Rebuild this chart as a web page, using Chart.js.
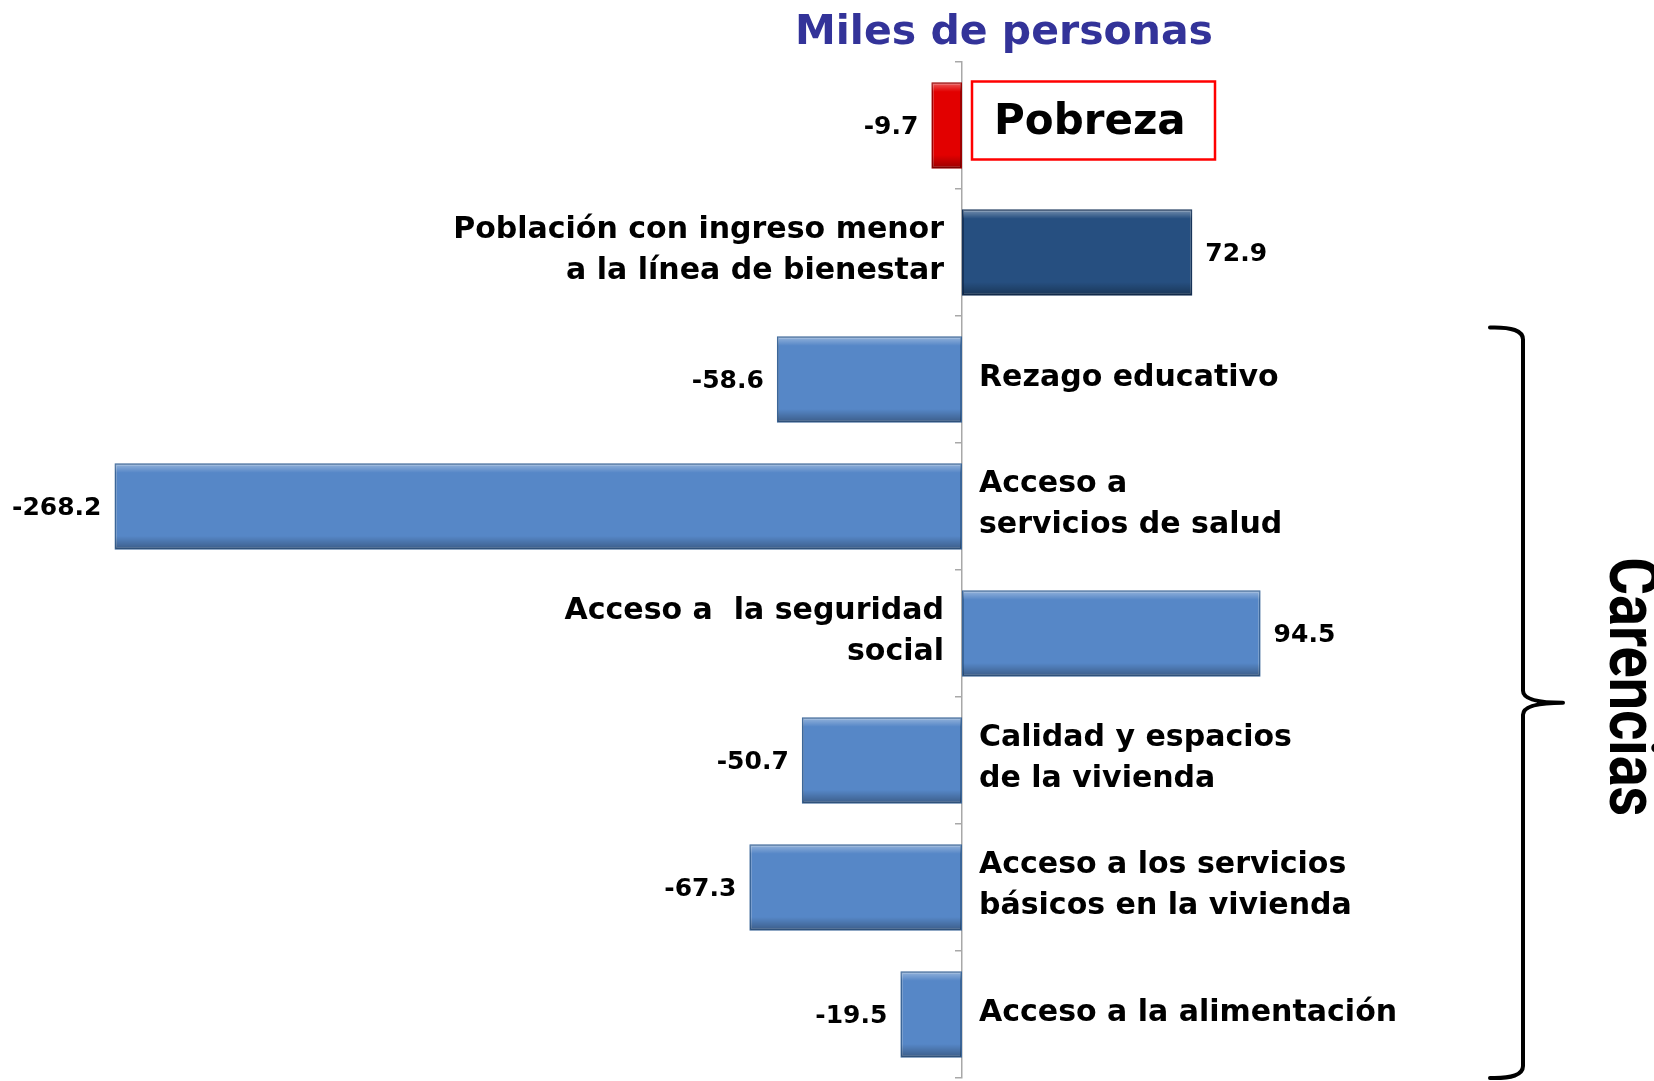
<!DOCTYPE html>
<html>
<head>
<meta charset="utf-8">
<script src="https://cdn.jsdelivr.net/npm/chart.js@4.4.1/dist/chart.umd.min.js"></script>
<style>
  html, body { margin: 0; padding: 0; background: #fff; }
  #wrap { width: 1654px; height: 1081px; }
</style>
</head>
<body>
<div id="wrap"><canvas id="cambio" width="1654" height="1081"></canvas></div>
<script>
// categorias (una por barra, de arriba hacia abajo), con sus renglones
const categorias = [
  ['Pobreza'],
  ['Población con ingreso menor', 'a la línea de bienestar'],
  ['Rezago educativo'],
  ['Acceso a', 'servicios de salud'],
  ['Acceso a  la seguridad', 'social'],
  ['Calidad y espacios', 'de la vivienda'],
  ['Acceso a los servicios', 'básicos en la vivienda'],
  ['Acceso a la alimentación'],
];
const valores = [-9.7, 72.9, -58.6, -268.2, 94.5, -50.7, -67.3, -19.5];
const titulo = 'Miles de personas';
const grupo = 'Carencias';

const colorBarra = ['#e20000', '#264f80', '#5687c7', '#5687c7', '#5687c7', '#5687c7', '#5687c7', '#5687c7'];
const colorBorde = ['#9c0000', '#17345a', '#3b6699', '#3b6699', '#3b6699', '#3b6699', '#3b6699', '#3b6699'];

const FUENTE = '"DejaVu Sans"';

// brillo arriba y sombra abajo, para imitar el bisel de las barras
const bisel = {
    id: 'bisel',
    afterDatasetsDraw(chart) {
        const ctx = chart.ctx;
        chart.getDatasetMeta(0).data.forEach((bar) => {
            const p = bar.getProps(['x', 'y', 'base', 'height'], true);
            const x0 = Math.min(p.x, p.base) + 1;
            const w = Math.abs(p.x - p.base) - 2;
            const y0 = p.y - p.height / 2 + 1;
            const h = p.height - 2;
            const g = ctx.createLinearGradient(0, y0, 0, y0 + h);
            g.addColorStop(0, 'rgba(255,255,255,0.35)');
            g.addColorStop(0.1, 'rgba(255,255,255,0)');
            g.addColorStop(0.85, 'rgba(0,0,0,0)');
            g.addColorStop(1, 'rgba(0,0,0,0.3)');
            ctx.save();
            ctx.fillStyle = g;
            ctx.fillRect(x0, y0, w, h);
            ctx.restore();
        });
    }
};

const etiquetas = {
    id: 'etiquetas',
    afterDraw(chart) {
        const ctx = chart.ctx;
        const x = chart.scales.x;
        const y = chart.scales.y;
        const cero = x.getPixelForValue(0);
        ctx.save();

        // titulo
        ctx.font = 'bold 41px ' + FUENTE;
        ctx.fillStyle = '#333399';
        ctx.textAlign = 'center';
        ctx.textBaseline = 'middle';
        ctx.fillText(titulo, 1004, 33);

        valores.forEach((v, i) => {
            const yc = y.getPixelForValue(i);
            const fin = x.getPixelForValue(v);

            // valor
            ctx.fillStyle = '#000';
            ctx.font = 'bold 25px ' + FUENTE;
            ctx.textAlign = v < 0 ? 'right' : 'left';
            ctx.fillText(v.toFixed(1), v < 0 ? fin - 13 : fin + 13, yc + 2);

            const lineas = categorias[i];
            if (i === 0) {
                ctx.strokeStyle = '#ff0000';
                ctx.lineWidth = 2.5;
                ctx.strokeRect(cero + 10, yc - 44, 243, 78);
                ctx.font = 'bold 42px ' + FUENTE;
                ctx.textAlign = 'left';
                ctx.fillText(lineas[0], cero + 32, yc - 2);
                return;
            }
            ctx.font = 'bold 30px ' + FUENTE;
            ctx.textAlign = v < 0 ? 'left' : 'right';
            const xt = v < 0 ? cero + 17 : cero - 18;
            lineas.forEach((t, k) => {
                ctx.fillText(t, xt, yc - 1.5 + (k - (lineas.length - 1) / 2) * 41);
            });
        });

        // llave de carencias
        const arriba = y.getPixelForValue(2) - 52;
        const abajo = chart.chartArea.bottom;
        const medio = (arriba + abajo) / 2;
        const xl = 1490, xv = 1523, xr = 1563;
        ctx.strokeStyle = '#000';
        ctx.lineWidth = 4;
        ctx.lineCap = 'round';
        ctx.beginPath();
        ctx.moveTo(xl, arriba);
        ctx.quadraticCurveTo(xv, arriba - 1, xv, arriba + 12);
        ctx.lineTo(xv, medio - 12);
        ctx.quadraticCurveTo(xv, medio, xr, medio);
        ctx.moveTo(xr, medio);
        ctx.quadraticCurveTo(xv, medio, xv, medio + 12);
        ctx.lineTo(xv, abajo - 12);
        ctx.quadraticCurveTo(xv, abajo + 1, xl, abajo);
        ctx.stroke();

        ctx.translate(1627, medio - 16);
        ctx.rotate(Math.PI / 2);
        ctx.scale(0.85, 1);
        ctx.font = 'bold 68px Roboto';
        ctx.textAlign = 'center';
        ctx.fillStyle = '#000';
        ctx.fillText(grupo, 0, 0);
        ctx.restore();
    }
};

new Chart(document.getElementById('cambio'), {
    type: 'bar',
    data: {
        labels: categorias,
        datasets: [{
            data: valores,
            backgroundColor: colorBarra,
            borderColor: colorBorde,
            borderWidth: 2,
            borderSkipped: false,
            categoryPercentage: 0.68,
            barPercentage: 1,
        }],
    },
    options: {
        indexAxis: 'y',
        responsive: false,
        animation: false,
        layout: { padding: { top: 62, bottom: 3, left: 14, right: 60 } },
        plugins: { legend: { display: false }, tooltip: { enabled: false } },
        scales: {
            x: { display: false, min: -300, max: 200 },
            y: {
                position: { x: 0 },
                ticks: { display: false },
                grid: { drawOnChartArea: false, drawTicks: true, tickLength: 6, color: '#a8a8a8', lineWidth: 1.5 },
                border: { display: true, color: '#a8a8a8', width: 1.5 },
            },
        },
    },
    plugins: [bisel, etiquetas],
});
</script>
</body>
</html>
